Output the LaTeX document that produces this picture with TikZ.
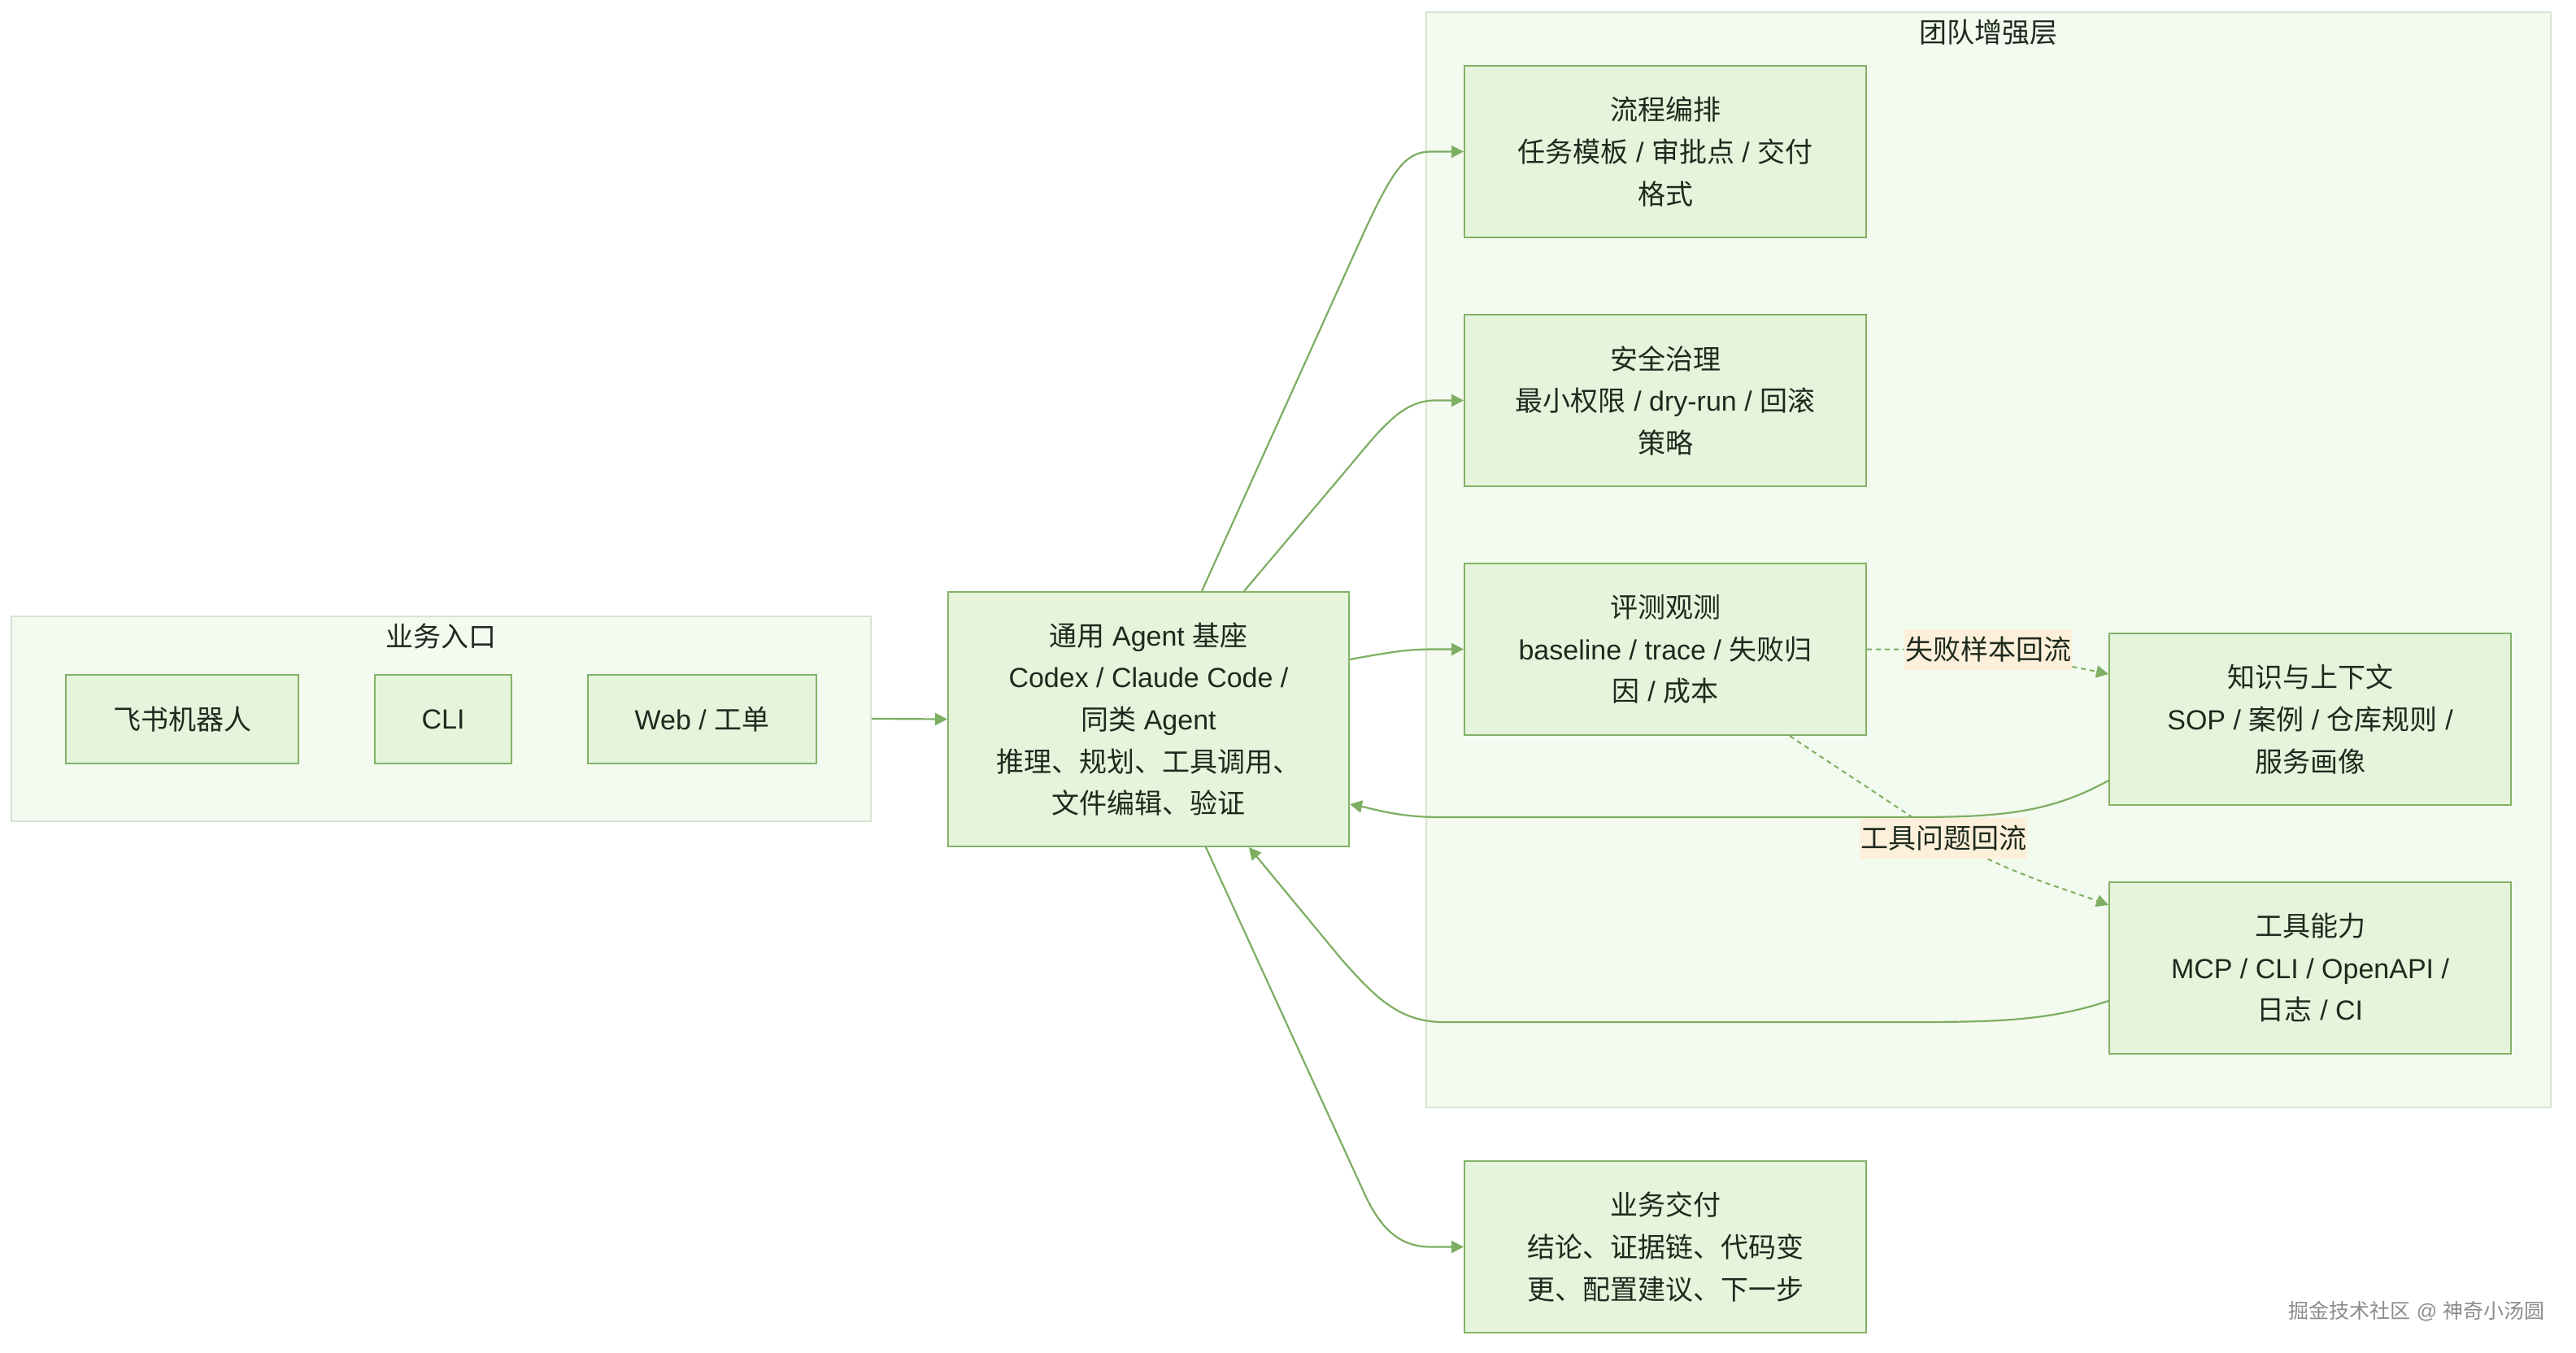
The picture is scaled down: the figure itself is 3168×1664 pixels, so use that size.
\documentclass[tikz,border=0pt]{standalone}
\usepackage{fontspec}
\setmainfont{Noto Sans CJK SC}
\newfontfamily\latfont{Liberation Sans}
\newcommand\EN[1]{{\latfont #1}}
\usetikzlibrary{arrows.meta,calc}
\definecolor{boxfill}{HTML}{E6F4DC}
\definecolor{boxline}{HTML}{82B366}
\definecolor{clfill}{HTML}{F3FAEF}
\definecolor{clline}{HTML}{D8E2CF}
\definecolor{edgec}{HTML}{7DAE62}
\definecolor{txt}{HTML}{1E2A1E}
\definecolor{labfill}{HTML}{FDF0DA}
\definecolor{wm}{HTML}{8C8C8C}
\begin{document}
\begin{tikzpicture}[x=0.5pt,y=-0.5pt,
  txtfont/.style={font=\fontsize{17}{25.8}\selectfont},
  box/.style={draw=boxline,fill=boxfill,line width=1pt,minimum width=247pt,minimum height=105.5pt,align=center,text=txt,txtfont,inner sep=0pt},
  cluster/.style={draw=clline,fill=clfill,line width=1pt,inner sep=0pt},
  ctitle/.style={text=txt,txtfont,inner sep=0pt},
  conn/.style={draw=edgec,line width=1.1pt,-{Triangle[length=7.5pt,width=7.5pt]}},
  dotc/.style={draw=edgec,line width=1pt,dash pattern=on 3pt off 2.5pt,-{Triangle[length=7.5pt,width=7.5pt]}},
  lab/.style={fill=labfill,text=txt,txtfont,inner xsep=0.5pt,inner ysep=0pt,minimum height=25pt}
]
\fill[white] (0,0) rectangle (3168,1664);
\useasboundingbox (0,0) rectangle (3168,1664);

% clusters
\node[cluster,minimum width=528.5pt,minimum height=126pt] (entry) at (542.5,884) {};
\node[ctitle] (entryt) at (542.5,783) {业务入口};
\node[cluster,minimum width=691.5pt,minimum height=673.5pt] (team) at (2445.5,688.5) {};
\node[ctitle] (teamt) at (2445,40) {团队增强层};

% entry boxes
\node[box,minimum width=143pt,minimum height=54.5pt] (feishu) at (224,884.5) {飞书机器人};
\node[box,minimum width=84pt,minimum height=54.5pt] (cli) at (545,884.5) {\EN{CLI}};
\node[box,minimum width=140.5pt,minimum height=54.5pt] (web) at (863.5,884.5) {\EN{Web / }工单};

% agent
\node[box,minimum width=246.5pt,minimum height=156.5pt] (agent) at (1412.5,884.5)
  {通用\EN{ Agent }基座\\\EN{Codex / Claude Code /}\\同类\EN{ Agent}\\推理、规划、工具调用、\\文件编辑、验证};

% team boxes
\node[box] (flow) at (2048,186.5) {流程编排\\任务模板\EN{ / }审批点\EN{ / }交付\\格式};
\node[box] (safe) at (2048,492.5) {安全治理\\最小权限\EN{ / dry-run / }回滚\\策略};
\node[box] (eval) at (2048,798.5) {评测观测\\\EN{baseline / trace / }失败归\\因\EN{ / }成本};
\node[box] (know) at (2841,884.5) {知识与上下文\\\EN{SOP / }案例\EN{ / }仓库规则\EN{ /}\\服务画像};
\node[box] (tool) at (2841,1190) {工具能力\\\EN{MCP / CLI / OpenAPI /}\\日志\EN{ / CI}};
\node[box] (deliver) at (2048,1533.5) {业务交付\\结论、证据链、代码变\\更、配置建议、下一步};

% labels
\node[lab] (l1) at (2445,798.5) {失败样本回流};
\node[lab] (l2) at (2390,1031) {工具问题回流};

% connectors
\draw[conn] (entry.east) -- (agent.west);
\draw[conn] ($(agent.north west)+(313,0)$) -- (1680,280) .. controls (1715,205) and (1730,186.5) .. (1760,186.5) -- (flow.west);
\draw[conn] ($(agent.north west)+(365,0)$) -- (1660,573) .. controls (1700,525) and (1725,492.5) .. (1765,492.5) -- (safe.west);
\draw[conn] ($(agent.north east)+(0,84)$) .. controls (1720,800) and (1735,798.5) .. (1765,798.5) -- (eval.west);
\draw[conn] ($(know.west)+(0,75.5)$) .. controls (2520,1000) and (2460,1005) .. (2350,1005) -- (1770,1005) .. controls (1720,1005) and (1690,995) .. ($(agent.east)+(0,104.5)$);
\draw[conn] ($(tool.west)+(0,41)$) .. controls (2520,1255) and (2460,1257) .. (2350,1257) -- (1775,1257) .. controls (1720,1257) and (1690,1225) .. (1650,1180) -- ($(agent.south west)+(371,0)$);
\draw[conn] ($(agent.south west)+(318,0)$) -- (1678,1468) .. controls (1700,1516) and (1725,1533.5) .. (1760,1533.5) -- (deliver.west);

\draw[dotc] (eval.east) -- (l1) -- ($(know.west)+(0,-55.5)$);
\draw[dotc] ($(eval.south west)+(401,0)$) to[out=-34,in=146] (l2) to[out=-25,in=160] ($(tool.west)+(0,-77)$);

% redraw labels on top
\node[lab] at (l1) {失败样本回流};
\node[lab] at (l2) {工具问题回流};

% watermark
\node[text=wm,font=\fontsize{12.5}{15}\selectfont,inner sep=0pt] (wmark) at (2972,1613) {掘金技术社区\EN{ @ }神奇小汤圆};
\end{tikzpicture}
\end{document}
